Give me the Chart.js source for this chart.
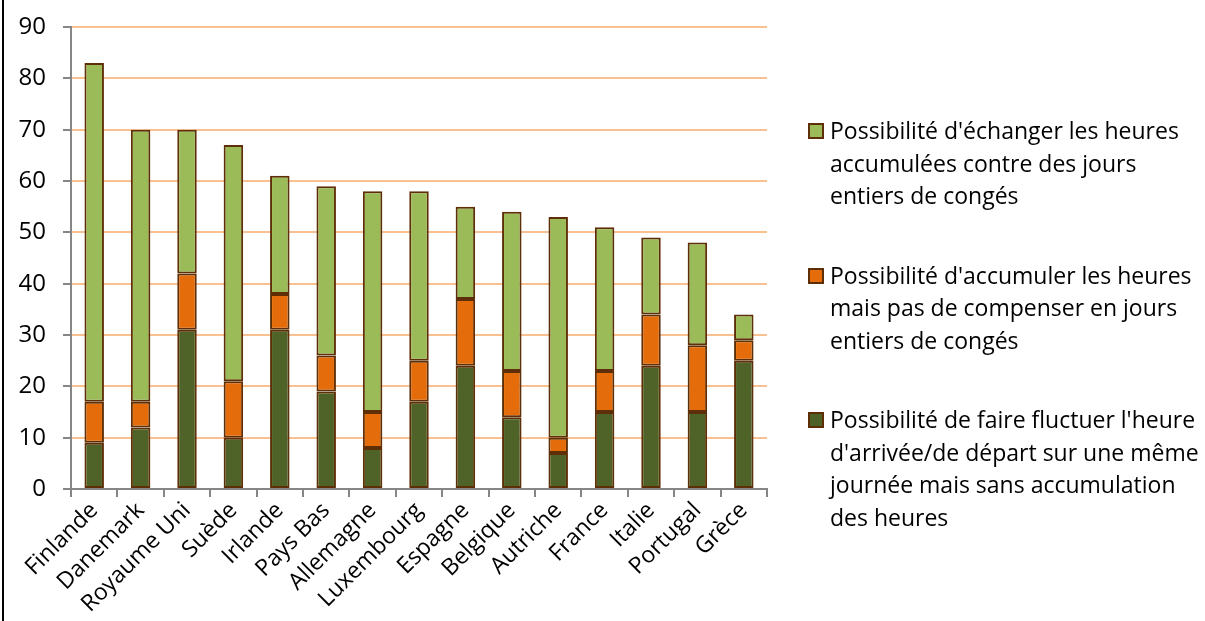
<!DOCTYPE html>
<html>
<head>
<meta charset="utf-8">
<script src="https://cdn.jsdelivr.net/npm/chart.js@4"></script>
<style>
    html, body { margin: 0; padding: 0; background: #fff; overflow: hidden; }
    #wrap { position: relative; width: 1205px; height: 621px; }
    #frame { position: absolute; left: 2px; top: 0; width: 0; height: 621px; border-left: 2px solid #000; }
    #legend { position: absolute; left: 808px; top: 114px; font-family: "Open Sans", sans-serif; font-size: 23px; line-height: 32.5px; color: #000; }
    .item { position: relative; padding-left: 22px; margin-bottom: 47px; }
    .box { position: absolute; left: 0; top: 9px; width: 12px; height: 12px; border: 2px solid #5E2F06; }
</style>
</head>
<body>
<div id="wrap">
    <canvas id="chart" width="1205" height="621"></canvas>
    <div id="frame"></div>
    <div id="legend"></div>
</div>
<script>
// ===== Data =====
const countries = ['Finlande', 'Danemark', 'Royaume Uni', 'Suède', 'Irlande', 'Pays Bas', 'Allemagne',
    'Luxembourg', 'Espagne', 'Belgique', 'Autriche', 'France', 'Italie', 'Portugal', 'Grèce'];

const fluctuer = [9, 12, 31, 10, 31, 19, 8, 17, 24, 14, 7, 15, 24, 15, 25];
const accumuler = [8, 5, 11, 11, 7, 7, 7, 8, 13, 9, 3, 8, 10, 13, 4];
const echanger = [66, 53, 28, 46, 23, 33, 43, 33, 18, 31, 43, 28, 15, 20, 5];

const yTicks = [0, 10, 20, 30, 40, 50, 60, 70, 80, 90];

const seriesNames = [
    "Possibilité de faire fluctuer l'heure|d'arrivée/de départ sur une même|journée mais sans accumulation|des heures",
    "Possibilité d'accumuler les heures|mais pas de compenser en jours|entiers de congés",
    "Possibilité d'échanger les heures|accumulées contre des jours|entiers de congés"
];
const seriesColors = ['#4F6228', '#E46C0A', '#9BBB59'];
const borderBrown = '#5E2F06';

const FONT = '"Open Sans", sans-serif';

function buildLegend(chart) {
    const legend = document.getElementById('legend');
    legend.innerHTML = '';
    // legend lists the top series first
    const ds = chart.data.datasets.slice().reverse();
    ds.forEach(d => {
        const item = document.createElement('div');
        item.className = 'item';
        const box = document.createElement('span');
        box.className = 'box';
        box.style.background = d.backgroundColor;
        item.appendChild(box);
        d.label.split('|').forEach(line => {
            const l = document.createElement('div');
            l.textContent = line;
            item.appendChild(l);
        });
        legend.appendChild(item);
    });
}

const ctx = document.getElementById('chart').getContext('2d');
const chart = new Chart(ctx, {
    type: 'bar',
    data: {
        labels: countries,
        datasets: [fluctuer, accumuler, echanger].map((vals, i) => ({
            label: seriesNames[i],
            data: vals,
            backgroundColor: seriesColors[i],
            borderColor: borderBrown,
            borderWidth: 2,
            borderSkipped: false,
            categoryPercentage: 1,
            barPercentage: 0.42
        }))
    },
    options: {
        responsive: false,
        animation: false,
        devicePixelRatio: 1,
        layout: { padding: { left: 3, right: 438, top: 27, bottom: 0 } },
        plugins: {
            legend: { display: false },
            tooltip: { enabled: false }
        },
        scales: {
            x: {
                stacked: true,
                grid: {
                    offset: true,
                    drawOnChartArea: false,
                    color: '#868686',
                    tickLength: 8,
                    lineWidth: 2
                },
                border: { color: '#868686', width: 2 },
                ticks: {
                    color: '#000',
                    font: { family: FONT, size: 23 },
                    maxRotation: 45,
                    minRotation: 45,
                    padding: 0,
                    autoSkip: false
                },
                afterFit: scale => { scale.height = 132; }
            },
            y: {
                stacked: true,
                min: 0,
                max: 90,
                afterBuildTicks: scale => { scale.ticks = yTicks.map(v => ({ value: v })); },
                grid: {
                    color: '#FAC090',
                    tickColor: '#868686',
                    tickLength: 8,
                    lineWidth: 2
                },
                border: { color: '#868686', width: 2 },
                ticks: {
                    color: '#000',
                    font: { family: FONT, size: 24 },
                    padding: 17
                },
                afterFit: scale => {
                    scale.width = 68;
                    scale.paddingTop = 0;
                    scale.paddingBottom = 0;
                }
            }
        }
    }
});

buildLegend(chart);
</script>
</body>
</html>
